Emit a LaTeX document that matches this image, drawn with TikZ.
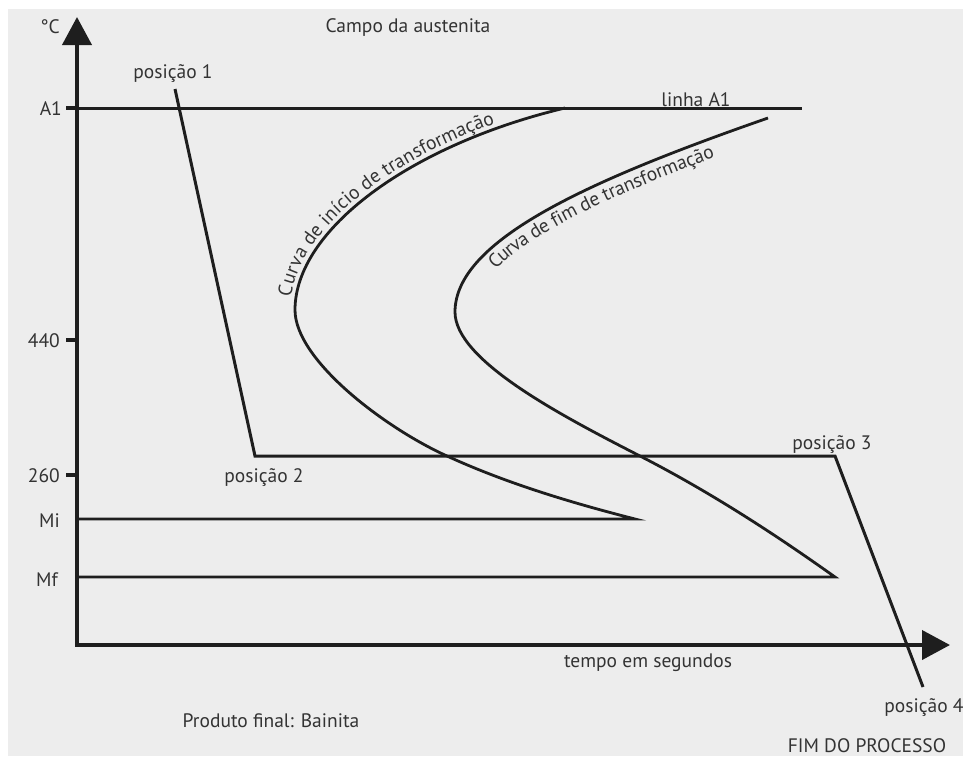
\documentclass[tikz,border=0pt]{standalone}
\usepackage{fontspec}
\setmainfont{PT Sans}
\usetikzlibrary{arrows.meta, decorations.text}

\definecolor{bggray}{HTML}{EDEDED}
\definecolor{inkgray}{HTML}{1E1E1E}
\definecolor{txtgray}{HTML}{333333}
\newcommand\diagfont{\fontsize{19.5}{22}\selectfont}

\begin{document}
\begin{tikzpicture}[
        x=1pt, y=-1pt,
        lbl/.style={font=\diagfont, text=txtgray, inner sep=0pt, anchor=base},
        ylbl/.style={lbl, anchor=base east},
        axis/.style={line width=4pt, draw=inkgray, line join=miter},
        curve/.style={line width=2.8pt, draw=inkgray, line join=miter},
        route/.style={line width=3pt, draw=inkgray},
        axtip/.tip={Triangle[length=28pt, width=29pt]},
    ]
    % frame
    \useasboundingbox (0,0) rectangle (973,756);
    \fill[white] (0,0) rectangle (973,756);
    \fill[bggray] (8,9) rectangle (963,756);

    % axes
    \coordinate (O) at (77,645);
    \coordinate (ytip) at (77,17);
    \coordinate (xtip) at (950,645);
    \draw[axis, axtip-axtip] (ytip) -- (O) -- (xtip);

    % ticks and levels
    \coordinate (a1) at (77,108);
    \coordinate (t440) at (77,340);
    \coordinate (t260) at (77,475);
    \coordinate (mi) at (77,519);
    \coordinate (mf) at (77,577);
    \draw[axis] (66,108) -- (a1);
    \draw[axis] (66,340) -- (t440);
    \draw[axis] (66,475) -- (t260);
    \draw[route] (a1) -- (802,108);

    % curves
    \coordinate (nose1) at (295,310);
    \coordinate (nose2) at (455,312);
    \draw[curve] (565,108) .. controls (410,145) and (295,230) .. (nose1)
        .. controls (295,360) and (385,428) .. (447,456)
        .. controls (510,485) and (580,505) .. (635,519) -- (mi);
    \draw[curve] (768,118) .. controls (590,180) and (455,240) .. (nose2)
        .. controls (455,360) and (560,415) .. (640,456)
        .. controls (720,497) and (790,545) .. (835,577) -- (mf);
    \path[decorate, decoration={text along path, raise=5pt,
            text align={left indent=12pt},
            text={|\diagfont\color{txtgray}|Curva de início de transformação}}]
        (nose1) .. controls (295,230) and (410,145) .. (565,108);
    \path[decorate, decoration={text along path, raise=-19pt,
            text align={left indent=64pt},
            text={|\diagfont\color{txtgray}|Curva de fim de transformação}}]
        (nose2) .. controls (455,240) and (590,180) .. (768,118);

    % cooling path
    \coordinate (p1) at (175,89);
    \coordinate (p2) at (255,456);
    \coordinate (p3) at (835,456);
    \coordinate (p4) at (923,687);
    \draw[route] (p1) -- (p2) -- (p3) -- (p4);

    % labels
    \node[ylbl] (ldeg) at (60,33) {°C};
    \node[ylbl] (lA1) at (62,115) {A1};
    \node[ylbl] (l440) at (60,347) {440};
    \node[ylbl] (l260) at (60,482) {260};
    \node[ylbl] (lMi) at (60,527) {Mi};
    \node[ylbl] (lMf) at (58,586) {Mf};
    \node[lbl] (campo) at (408,32) {Campo da austenita};
    \node[lbl] (linha) at (696,106) {linha A1};
    \node[lbl] (pos1) at (173,78) {posição 1};
    \node[lbl] (pos2) at (264,482) {posição 2};
    \node[lbl] (pos3) at (832,449) {posição 3};
    \node[lbl] (pos4) at (924,712) {posição 4};
    \node[lbl] (tempo) at (648,667) {tempo em segundos};
    \node[lbl] (produto) at (271,727) {Produto final: Bainita};
    \node[lbl] (fim) at (867,752) {FIM DO PROCESSO};
\end{tikzpicture}
\end{document}
